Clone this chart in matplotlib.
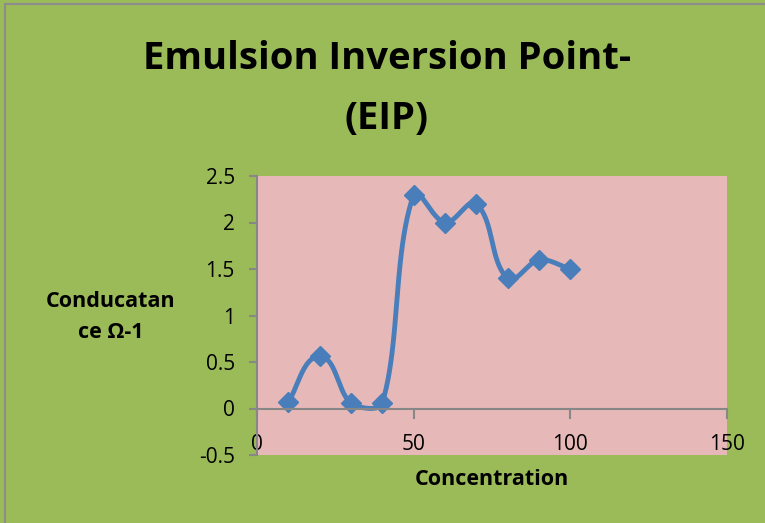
import numpy as np
import matplotlib.pyplot as plt
from matplotlib.patches import Rectangle

conc = [10, 20, 30, 40, 50, 60, 70, 80, 90, 100]
conductance = [0.07, 0.56, 0.06, 0.06, 2.3, 2.0, 2.2, 1.4, 1.6, 1.5]
xticks = [0, 50, 100, 150]
yticks = [-0.5, 0, 0.5, 1, 1.5, 2, 2.5]

# plot box in pixels (figure is 765 x 523 at 100 dpi)
left, right, top, bottom = 257, 727, 176, 455
xmin, xmax, ymin, ymax = 0, 150, -0.5, 2.5
kx = (right - left) / (xmax - xmin)
ky = (bottom - top) / (ymax - ymin)


def smooth(x, y, k=0.3, n=50):
    # bezier segments worked out in screen units so the curve bends like a chart smoothing
    X = np.asarray(x, float) * kx
    Y = np.asarray(y, float) * ky
    P = np.column_stack([X, Y])
    m = len(P)
    tang = []
    for i in range(m):
        a = P[max(i - 1, 0)]
        b = P[min(i + 1, m - 1)]
        d = b - a
        tang.append(d / np.hypot(*d))
    out = []
    t = np.linspace(0, 1, n)[:, None]
    for i in range(m - 1):
        p0, p3 = P[i], P[i + 1]
        L = np.hypot(*(p3 - p0))
        p1 = p0 + tang[i] * L * k
        p2 = p3 - tang[i + 1] * L * k
        seg = (1 - t) ** 3 * p0 + 3 * t * (1 - t) ** 2 * p1 + 3 * t ** 2 * (1 - t) * p2 + t ** 3 * p3
        out.append(seg)
    out = np.vstack(out)
    return out[:, 0] / kx, out[:, 1] / ky


plt.rcParams['font.family'] = ['Open Sans', 'DejaVu Sans']

fig = plt.figure(figsize=(7.65, 5.23), dpi=100, facecolor='#9BBB59')
fig.patches.append(Rectangle((0.006, -0.01), 1.1, 1.002, transform=fig.transFigure,
                             fill=False, edgecolor='#8c8c8c', linewidth=1.5))

ax = fig.add_axes([left / 765, 1 - bottom / 523, (right - left) / 765, (bottom - top) / 523])
ax.set_facecolor('#E6B9B8')

sx, sy = smooth(conc, conductance)
ax.plot(sx, sy, color='#4A7EBB', linewidth=3.5, solid_capstyle='round')
ax.plot(conc, conductance, linestyle='none', marker='D', markersize=10.5,
        color='#4A7EBB')

ax.set_xlim(xmin, xmax)
ax.set_ylim(ymin, ymax)
ax.set_xticks(xticks)
ax.set_yticks(yticks)
ax.set_yticklabels(['-0.5', '0', '0.5', '1', '1.5', '2', '2.5'])

for s in ['top', 'right', 'bottom']:
    ax.spines[s].set_visible(False)
ax.spines['left'].set_color('#878787')
ax.spines['left'].set_linewidth(1.5)
ax.axhline(0, color='#878787', linewidth=1.5)
for xt in xticks:
    ax.plot([xt, xt], [0, -0.1], color='#878787', linewidth=1.5, clip_on=False)

ax.tick_params(axis='y', direction='out', length=6, width=1.5, color='#878787',
               labelsize=15, pad=10)
ax.tick_params(axis='x', length=0, labelsize=15, pad=-15)

ax.set_xlabel('Concentration', fontsize=15.5, fontweight='bold', labelpad=10)
fig.text(111 / 765, 1 - 317 / 523, 'Conducatan\nce \u03a9-1', ha='center', va='center',
         fontsize=15.5, fontweight='bold', linespacing=1.6)

fig.text(387 / 765, 1 - 89 / 523, 'Emulsion Inversion Point-\n(EIP)', ha='center',
         va='center', fontsize=27.5, fontweight='bold', linespacing=1.75)

fig.savefig('out.png', dpi=100, facecolor=fig.get_facecolor())
